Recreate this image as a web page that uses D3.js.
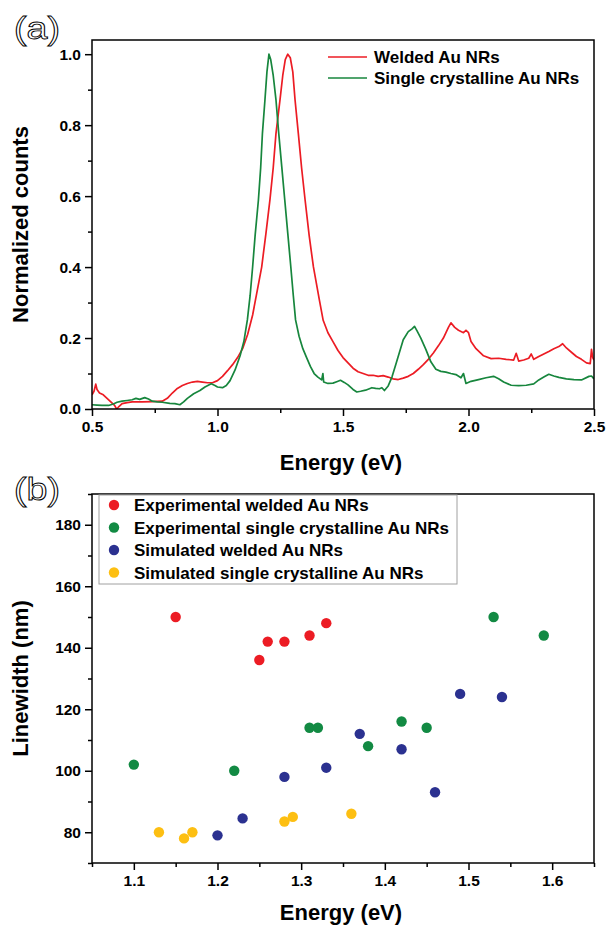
<!DOCTYPE html>
<html><head><meta charset="utf-8">
<script src="https://cdn.jsdelivr.net/npm/d3@7"></script>
<style>
body{margin:0;background:#fff;}
svg{display:block;}
text{font-family:"Liberation Sans",Arial,sans-serif;}
</style></head>
<body>
<svg id="c" width="609" height="931"></svg>
<script>
// ---------- Panel (a) data: spectra (Energy eV, normalized counts) ----------
const weldedE = [0.500,0.508,0.515,0.520,0.530,0.545,0.560,0.575,0.590,0.598,0.605,0.620,0.640,0.660,0.700,0.740,0.780,0.800,0.820,0.840,0.860,0.880,0.900,0.920,0.940,0.960,0.980,1.000,1.020,1.040,1.060,1.080,1.100,1.120,1.140,1.160,1.176,1.193,1.209,1.222,1.233,1.249,1.260,1.270,1.280,1.290,1.300,1.309,1.322,1.335,1.349,1.365,1.382,1.406,1.421,1.440,1.460,1.480,1.500,1.520,1.540,1.560,1.580,1.600,1.620,1.640,1.660,1.680,1.700,1.720,1.740,1.760,1.780,1.800,1.820,1.840,1.860,1.880,1.900,1.920,1.930,1.945,1.960,1.980,1.990,2.000,2.010,2.030,2.060,2.090,2.120,2.150,2.180,2.190,2.200,2.220,2.240,2.250,2.260,2.280,2.300,2.320,2.340,2.360,2.375,2.390,2.410,2.430,2.450,2.470,2.485,2.490,2.495,2.500];
const weldedV = [0.040,0.050,0.070,0.055,0.045,0.040,0.030,0.020,0.010,0.000,0.005,0.015,0.018,0.020,0.020,0.021,0.022,0.030,0.045,0.058,0.066,0.072,0.076,0.078,0.076,0.074,0.074,0.080,0.092,0.108,0.125,0.145,0.170,0.210,0.265,0.340,0.400,0.495,0.590,0.680,0.777,0.871,0.940,0.985,1.000,0.990,0.950,0.871,0.777,0.680,0.589,0.490,0.401,0.307,0.250,0.215,0.190,0.165,0.145,0.130,0.115,0.105,0.100,0.095,0.095,0.092,0.094,0.090,0.085,0.083,0.087,0.092,0.100,0.112,0.125,0.140,0.158,0.178,0.200,0.230,0.243,0.230,0.222,0.215,0.222,0.215,0.190,0.170,0.150,0.142,0.143,0.140,0.138,0.157,0.135,0.138,0.143,0.155,0.140,0.148,0.155,0.162,0.170,0.176,0.184,0.172,0.160,0.148,0.140,0.130,0.128,0.168,0.145,0.138];
const singleE = [0.500,0.520,0.540,0.566,0.585,0.600,0.620,0.640,0.660,0.675,0.690,0.710,0.725,0.740,0.760,0.780,0.810,0.830,0.850,0.865,0.880,0.905,0.930,0.950,0.975,0.990,1.000,1.020,1.035,1.050,1.070,1.090,1.105,1.119,1.130,1.140,1.150,1.163,1.172,1.179,1.189,1.197,1.205,1.212,1.222,1.233,1.244,1.256,1.268,1.280,1.292,1.302,1.311,1.325,1.340,1.355,1.370,1.385,1.400,1.415,1.420,1.423,1.440,1.460,1.475,1.490,1.505,1.520,1.540,1.555,1.570,1.590,1.615,1.630,1.645,1.655,1.665,1.680,1.695,1.710,1.725,1.740,1.760,1.775,1.785,1.795,1.810,1.830,1.850,1.870,1.890,1.910,1.930,1.950,1.970,1.980,1.990,2.010,2.040,2.070,2.100,2.120,2.140,2.170,2.200,2.230,2.260,2.280,2.300,2.320,2.340,2.360,2.390,2.420,2.450,2.480,2.490,2.500];
const singleV = [0.012,0.011,0.010,0.010,0.014,0.019,0.022,0.024,0.026,0.030,0.027,0.032,0.028,0.022,0.020,0.019,0.016,0.015,0.012,0.020,0.030,0.043,0.052,0.062,0.071,0.066,0.062,0.060,0.066,0.080,0.110,0.150,0.190,0.251,0.320,0.401,0.490,0.589,0.680,0.777,0.871,0.950,1.000,0.985,0.940,0.871,0.777,0.683,0.589,0.495,0.401,0.320,0.251,0.205,0.170,0.145,0.120,0.100,0.090,0.082,0.100,0.076,0.072,0.073,0.077,0.081,0.075,0.068,0.055,0.048,0.050,0.053,0.060,0.058,0.057,0.060,0.052,0.065,0.090,0.125,0.160,0.195,0.218,0.226,0.233,0.220,0.200,0.168,0.133,0.112,0.106,0.104,0.100,0.097,0.088,0.100,0.072,0.078,0.083,0.088,0.092,0.085,0.076,0.067,0.066,0.067,0.071,0.082,0.090,0.098,0.093,0.089,0.085,0.083,0.082,0.092,0.093,0.085];
const spectraNames = ["Welded Au NRs","Single crystalline Au NRs"];
const spectraColors = ["#ec1c24","#17863d"];
const aXTicks = [0.5,1.0,1.5,2.0,2.5];
const aYTicks = [0.0,0.2,0.4,0.6,0.8,1.0];

// ---------- Panel (b) data: linewidth vs energy ----------
const expWeldedE = [1.15,1.25,1.26,1.28,1.31,1.33];
const expWeldedW = [150,136,142,142,144,148];
const expSingleE = [1.10,1.22,1.31,1.32,1.38,1.42,1.45,1.53,1.59];
const expSingleW = [102,100,114,114,108,116,114,150,144];
const simWeldedE = [1.20,1.23,1.28,1.33,1.37,1.42,1.46,1.49,1.54];
const simWeldedW = [79,84.5,98,101,112,107,93,125,124];
const simSingleE = [1.13,1.16,1.17,1.28,1.29,1.36];
const simSingleW = [80,78,80,83.5,85,86];
const bNames = ["Experimental welded Au NRs","Experimental single crystalline Au NRs","Simulated welded Au NRs","Simulated single crystalline Au NRs"];
const bColors = ["#ec1c24","#128a43","#2b3190","#fdbf12"];
const bXTicks = [1.1,1.2,1.3,1.4,1.5,1.6];
const bYTicks = [80,100,120,140,160,180];

const svg = d3.select("#c");
const L = 92, R = 594;

function drawAxes(g, x, y, top, bottom, xMajor, xMinor, yMajor, yMinor, xFmt, yFmt){
  const bx = g.append("g").attr("transform",`translate(0,${bottom})`)
    .call(d3.axisBottom(x).tickValues(xMinor).tickSize(4).tickFormat(""));
  const bx2 = g.append("g").attr("transform",`translate(0,${bottom})`)
    .call(d3.axisBottom(x).tickValues(xMajor).tickSize(7).tickPadding(5).tickFormat(xFmt));
  const ly = g.append("g").attr("transform",`translate(${L},0)`)
    .call(d3.axisLeft(y).tickValues(yMinor).tickSize(4).tickFormat(""));
  const ly2 = g.append("g").attr("transform",`translate(${L},0)`)
    .call(d3.axisLeft(y).tickValues(yMajor).tickSize(7).tickPadding(4).tickFormat(yFmt));
  [bx,bx2,ly,ly2].forEach(a=>{
    a.select(".domain").remove();
    a.selectAll("line").attr("stroke","#000").attr("stroke-width",1.5);
    a.selectAll("text").attr("font-size",15.5).attr("font-weight","bold").attr("fill","#000")
      .attr("font-family","'Liberation Sans',Arial,sans-serif");
  });
  g.append("rect").attr("x",L).attr("y",top).attr("width",R-L).attr("height",bottom-top)
    .attr("fill","none").attr("stroke","#000").attr("stroke-width",1.5);
}

// ===== Panel (a) =====
const aTop = 40, aBottom = 409;
const xa = d3.scaleLinear().domain([0.5,2.5]).range([L,R]);
const ya = d3.scaleLinear().domain([0,1.04]).range([aBottom,aTop]);
const ga = svg.append("g");
ga.append("clipPath").attr("id","clipA").append("rect")
  .attr("x",L).attr("y",aTop).attr("width",R-L).attr("height",aBottom-aTop);
const seriesA = [d3.zip(weldedE,weldedV), d3.zip(singleE,singleV)];
const lineA = d3.line().x(d=>xa(d[0])).y(d=>ya(d[1]));
seriesA.forEach((s,i)=>{
  ga.append("path").attr("d",lineA(s)).attr("fill","none")
    .attr("stroke",spectraColors[i]).attr("stroke-width",1.7).attr("stroke-linejoin","round")
    .attr("clip-path","url(#clipA)");
});
drawAxes(ga, xa, ya, aTop, aBottom, aXTicks, [0.75,1.25,1.75,2.25], aYTicks, [0.1,0.3,0.5,0.7,0.9],
  d3.format(".1f"), d3.format(".1f"));
spectraNames.forEach((n,i)=>{
  const yy = 57 + i*21;
  ga.append("line").attr("x1",328).attr("x2",367).attr("y1",yy).attr("y2",yy)
    .attr("stroke",spectraColors[i]).attr("stroke-width",1.7);
  ga.append("text").attr("x",374).attr("y",yy+6).attr("font-size",17).attr("font-weight","bold").text(n);
});
ga.append("text").attr("transform",`translate(28,${(aTop+aBottom)/2}) rotate(-90)`)
  .attr("text-anchor","middle").attr("font-size",22).attr("font-weight","bold").text("Normalized counts");
ga.append("text").attr("x",341).attr("y",470).attr("text-anchor","middle")
  .attr("font-size",22).attr("font-weight","bold").text("Energy (eV)");
ga.append("text").attr("x",14).attr("y",39).attr("font-size",31).attr("fill","#fff")
  .attr("stroke","#000").attr("stroke-width",0.9).attr("textLength",46).attr("lengthAdjust","spacingAndGlyphs").text("(a)");

// ===== Panel (b) =====
const bTop = 494, bBottom = 863;
const xb = d3.scaleLinear().domain([1.05,1.65]).range([L,R]);
const yb = d3.scaleLinear().domain([70,190]).range([bBottom,bTop]);
const gb = svg.append("g");
drawAxes(gb, xb, yb, bTop, bBottom, bXTicks, [1.05,1.15,1.25,1.35,1.45,1.55,1.65], bYTicks, [70,90,110,130,150,170,190],
  d3.format(".1f"), d3.format("d"));
const seriesB = [d3.zip(expWeldedE,expWeldedW), d3.zip(expSingleE,expSingleW), d3.zip(simWeldedE,simWeldedW), d3.zip(simSingleE,simSingleW)];
seriesB.forEach((s,i)=>{
  gb.append("g").selectAll("circle").data(s).join("circle")
    .attr("cx",d=>xb(d[0])).attr("cy",d=>yb(d[1])).attr("r",5.2).attr("fill",bColors[i]);
});
gb.append("rect").attr("x",99).attr("y",bTop+1).attr("width",358).attr("height",89)
  .attr("fill","none").attr("stroke","#a0a0a0").attr("stroke-width",1);
bNames.forEach((n,i)=>{
  const yy = 505 + i*22.5;
  gb.append("circle").attr("cx",114).attr("cy",yy).attr("r",5.2).attr("fill",bColors[i]);
  gb.append("text").attr("x",134).attr("y",yy+6).attr("font-size",17).attr("font-weight","bold").text(n);
});
gb.append("text").attr("transform",`translate(28,${(bTop+bBottom)/2}) rotate(-90)`)
  .attr("text-anchor","middle").attr("font-size",22).attr("font-weight","bold").text("Linewidth (nm)");
gb.append("text").attr("x",341).attr("y",920).attr("text-anchor","middle")
  .attr("font-size",22).attr("font-weight","bold").text("Energy (eV)");
gb.append("text").attr("x",14).attr("y",500).attr("font-size",31).attr("fill","#fff")
  .attr("stroke","#000").attr("stroke-width",0.9).attr("textLength",46).attr("lengthAdjust","spacingAndGlyphs").text("(b)");
</script>
</body></html>
